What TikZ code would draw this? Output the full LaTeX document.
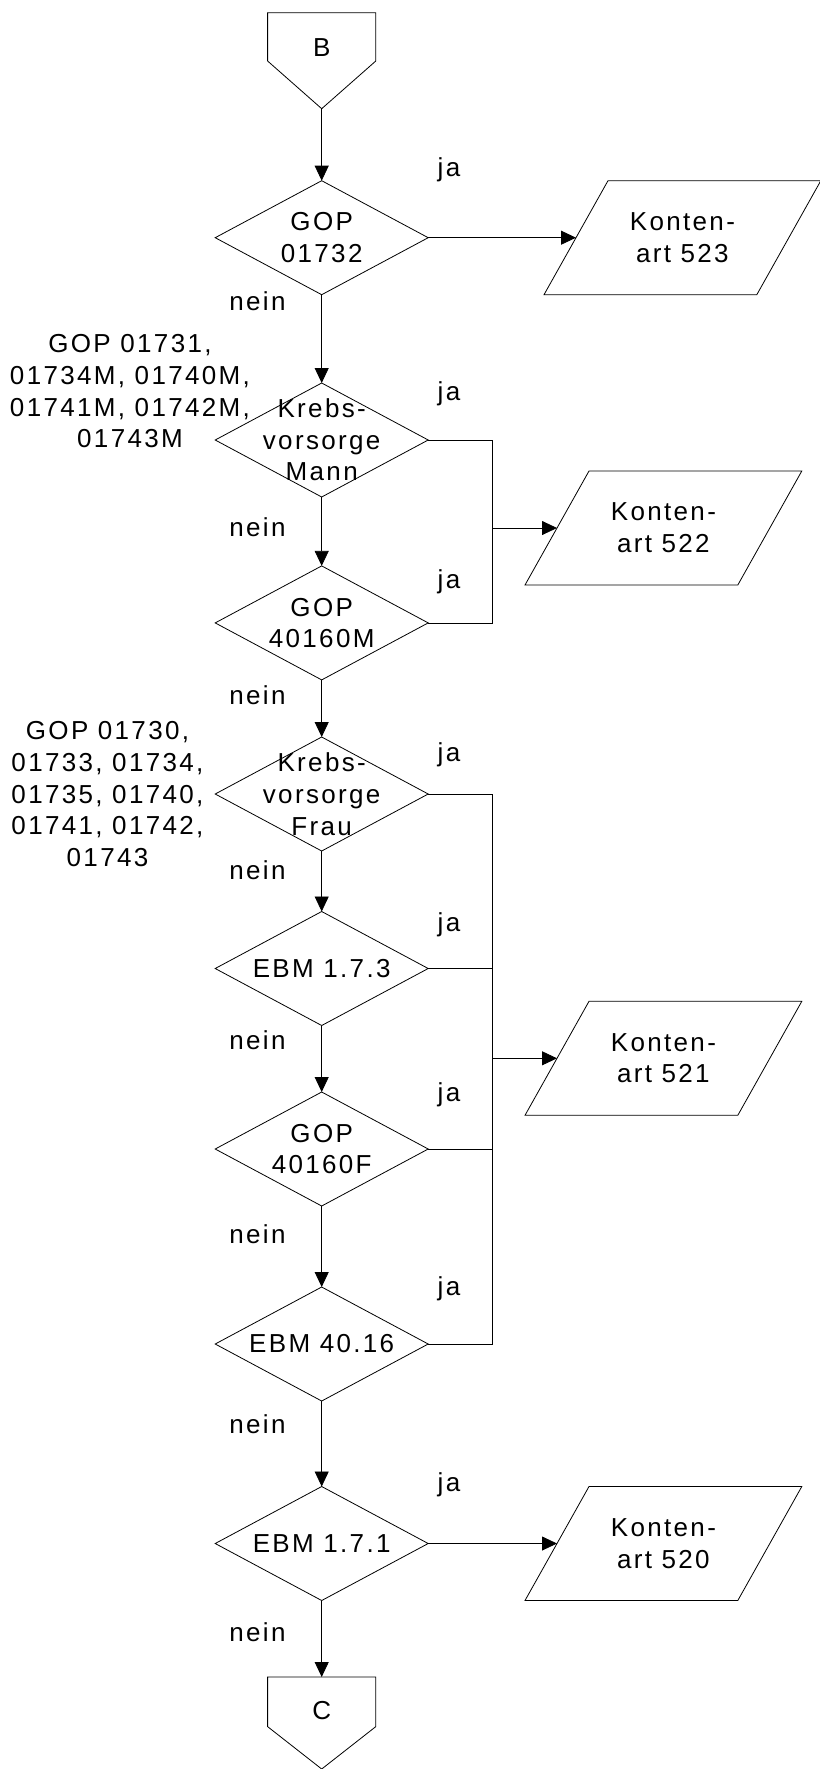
\documentclass[tikz,border=0pt]{standalone}
\usepackage{fontspec}
\setmainfont[LetterSpace=9]{Liberation Sans}
\usetikzlibrary{shapes.geometric,arrows.meta}
\begin{document}
\begin{tikzpicture}[x=1pt,y=-1pt,
  every node/.style={font=\fontsize{26}{31.7}\selectfont},
  dec/.style={diamond, draw, line width=0.8pt, minimum width=213pt, minimum height=114pt, inner sep=0pt, outer sep=0pt},
  para/.style={minimum width=212.8pt, minimum height=114pt, inner sep=0pt, outer sep=0pt, align=center},
  txt/.style={align=center, inner sep=0pt},
  offpage/.style={minimum width=108.2pt, inner sep=0pt, outer sep=0pt},
  conn/.style={line width=0.8pt},
  arr/.style={conn, -{Triangle[length=15pt,width=14pt]}}
]
\useasboundingbox (0,0) rectangle (819,1769);

% off-page connectors
\node[offpage, minimum height=96pt] (B) at (321.7,60.7) {};
\draw[conn] (B.north west) -- (B.north east) -- ([yshift=-48.3pt]B.north east) -- (B.south) -- ([yshift=-48.3pt]B.north west) -- cycle;
\node[txt] (Bt) at (321.7,47.5) {B};

\node[offpage, minimum height=92pt] (C) at (321.7,1723) {};
\draw[conn] (C.north west) -- (C.north east) -- ([yshift=-49.6pt]C.north east) -- (C.south) -- ([yshift=-49.6pt]C.north west) -- cycle;
\node[txt] (Ct) at (321.7,1711) {C};

% decisions
\node[dec, label={[txt]center:GOP\\01732}] (D1) at (321.7,237.7) {};
\node[dec, label={[txt]center:Krebs-\\vorsorge\\Mann}] (D2) at (321.7,440) {};
\node[dec, label={[txt]center:GOP\\40160M}] (D3) at (321.7,622.9) {};
\node[dec, label={[txt]center:Krebs-\\vorsorge\\Frau}] (D4) at (321.7,794) {};
\node[dec, label={[txt]center:EBM 1.7.3}] (D5) at (321.7,968.5) {};
\node[dec, label={[txt]center:GOP\\40160F}] (D6) at (321.7,1149) {};
\node[dec, label={[txt]center:EBM 40.16}] (D7) at (321.7,1344) {};
\node[dec, label={[txt]center:EBM 1.7.1}] (D8) at (321.7,1543.5) {};

% outputs (parallelograms)
\node[para] (P523) at (682.4,237.7) {Konten-\\art 523};
\node[para] (P522) at (663.4,528) {Konten-\\art 522};
\node[para] (P521) at (663.4,1058.3) {Konten-\\art 521};
\node[para] (P520) at (663.4,1543.5) {Konten-\\art 520};
\foreach \p in {P523,P522,P521,P520}
  \draw[conn] ([xshift=32pt]\p.north west) -- ([xshift=32pt]\p.north east) -- ([xshift=-32pt]\p.south east) -- ([xshift=-32pt]\p.south west) -- cycle;

% side notes
\node[txt] (N1) at (130,391.4) {GOP 01731,\\01734M, 01740M,\\01741M, 01742M,\\01743M};
\node[txt] (N2) at (107.5,794.3) {GOP 01730,\\01733, 01734,\\01735, 01740,\\01741, 01742,\\01743};

% ja / nein labels
\foreach \n/\y in {j1/170, j2/393.5, j3/582, j4/755, j5/925, j6/1095, j7/1288.5, j8/1484.5}
  \node[txt] (\n) at (449,\y) {ja};
\foreach \n/\y in {n1/301, n2/527.5, n3/695, n4/870, n5/1040.5, n6/1234, n7/1424.5, n8/1632}
  \node[txt] (\n) at (257.5,\y) {nein};

% main flow
\draw[arr] (B.south) -- (D1.north);
\draw[arr] (D1.south) -- (D2.north);
\draw[arr] (D2.south) -- (D3.north);
\draw[arr] (D3.south) -- (D4.north);
\draw[arr] (D4.south) -- (D5.north);
\draw[arr] (D5.south) -- (D6.north);
\draw[arr] (D6.south) -- (D7.north);
\draw[arr] (D7.south) -- (D8.north);
\draw[arr] (D8.south) -- (C.north);

% yes branches
\draw[arr] (D1.east) -- (P523.west);
\draw[arr] (D8.east) -- (P520.west);

\coordinate (bus522) at (492.6,528);
\draw[conn] (D2.east) -| (bus522);
\draw[conn] (D3.east) -| (bus522);
\draw[arr] (bus522) -- (P522.west);

\coordinate (bus521) at (492.6,1058.3);
\draw[conn] (D4.east) -| (bus521);
\draw[conn] (D7.east) -| (bus521);
\draw[conn] (D5.east) -- (D5.east -| bus521);
\draw[conn] (D6.east) -- (D6.east -| bus521);
\draw[arr] (bus521) -- (P521.west);
\end{tikzpicture}
\end{document}
